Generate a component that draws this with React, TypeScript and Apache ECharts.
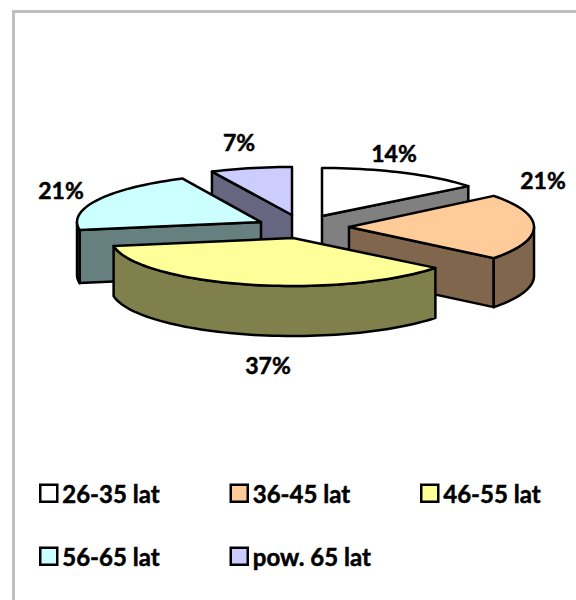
import React, { useEffect, useRef } from "react";
import * as echarts from "echarts";

const categories = ["26-35 lat", "36-45 lat", "46-55 lat", "56-65 lat", "pow. 65 lat"];
const values = [14.3, 21.4, 36.6, 20.7, 7.0];
const topColors = ["#ffffff", "#ffcc99", "#ffff99", "#ccffff", "#ccccff"];
const sideColors = ["#808080", "#80664d", "#80804d", "#668080", "#666680"];
// exploded-slice placement: apex x, apex y, rx, ry, thickness
const slicePlacement = [
  [322, 216, 187, 48, 50],
  [349, 227, 185, 50, 49],
  [293, 238, 182, 48, 50],
  [261, 222, 184, 48, 53],
  [292, 215, 188, 48, 50],
];
const labelPlacement = [
  [394, 153],
  [543, 180],
  [268, 365],
  [61, 190],
  [239, 142],
];
const legendPlacement = [
  [39, 481],
  [229.5, 481],
  [420, 481],
  [39, 544],
  [229.5, 544],
];
const drawOrder = [0, 4, 1, 3, 2];

const total = values.reduce((a, b) => a + b, 0);
const rad = (d: number) => (d * Math.PI) / 180;

function makeRenderItem(i: number) {
  return (_params: any, api: any) => {
    const v = api.value(0) as number;
    const before = values.slice(0, i).reduce((a, b) => a + b, 0);
    const start = (before / total) * 360;
    const end = start + (v / total) * 360;
    const [cx, cy, rx, ry, h] = slicePlacement[i];
    const pt = (deg: number, dy = 0) => [cx + rx * Math.sin(rad(deg)), cy - ry * Math.cos(rad(deg)) + dy];
    const arc = (a: number, b: number, dy = 0) => {
      const out: number[][] = [];
      const n = Math.max(2, Math.ceil(Math.abs(b - a) / 2));
      for (let k = 0; k <= n; k++) out.push(pt(a + ((b - a) * k) / n, dy));
      return out;
    };
    const poly = (points: number[][], fill: string) => ({
      type: "polygon",
      shape: { points },
      style: { fill, stroke: "#000000", lineWidth: 2.5, lineJoin: "round" },
    });
    const children: any[] = [];
    const side = sideColors[i];
    if (Math.sin(rad(start)) < -1e-6) {
      const p = pt(start);
      children.push(poly([[cx, cy], p, [p[0], p[1] + h], [cx, cy + h]], side));
    }
    if (Math.sin(rad(end)) > 1e-6) {
      const p = pt(end);
      children.push(poly([[cx, cy], p, [p[0], p[1] + h], [cx, cy + h]], side));
    }
    const a = Math.max(start, 90);
    const b = Math.min(end, 270);
    if (b > a) {
      children.push(poly([...arc(a, b), ...arc(b, a, h)], side));
    }
    children.push(poly([[cx, cy], ...arc(start, end)], topColors[i]));
    const [lx, ly] = labelPlacement[i];
    children.push({
      type: "text",
      x: lx,
      y: ly,
      style: {
        text: `${Math.round(v)}%`,
        fontFamily: "Lato",
        fontWeight: "bold",
        fontSize: 23,
        fill: "#000000",
        stroke: "#000000",
        lineWidth: 0.5,
        textAlign: "center",
        textVerticalAlign: "middle",
      },
    });
    return { type: "group", children };
  };
}

export default function App() {
  const ref = useRef<HTMLDivElement>(null);
  useEffect(() => {
    document.body.style.margin = "0";
    document.body.style.overflow = "hidden";
    const chart = echarts.init(ref.current!, undefined, { renderer: "svg" });
    chart.setOption({
      animation: false,
      backgroundColor: "#ffffff",
      graphic: [
        {
          type: "rect",
          shape: { x: 13.5, y: 11.5, width: 700, height: 700 },
          style: { fill: "none", stroke: "#c0c0c0", lineWidth: 3 },
          silent: true,
        },
      ],
      legend: categories.map((name, i) => ({
        left: legendPlacement[i][0],
        top: legendPlacement[i][1],
        itemWidth: 17,
        itemHeight: 17,
        selectedMode: false,
        padding: 0,
        data: [
          {
            name,
            icon: "rect",
            itemStyle: { color: topColors[i], borderColor: "#000000", borderWidth: 2.5 },
          },
        ],
        textStyle: {
          fontFamily: "Lato",
          fontWeight: "bold",
          fontSize: 24,
          color: "#000000",
          textBorderColor: "#000000",
          textBorderWidth: 0.5,
        },
      })),
      series: drawOrder.map((i) => ({
        type: "custom",
        name: categories[i],
        coordinateSystem: "none",
        silent: true,
        data: [values[i]],
        itemStyle: { color: topColors[i] },
        renderItem: makeRenderItem(i),
      })),
    });
    return () => chart.dispose();
  }, []);
  return <div ref={ref} style={{ width: 576, height: 600 }} />;
}
